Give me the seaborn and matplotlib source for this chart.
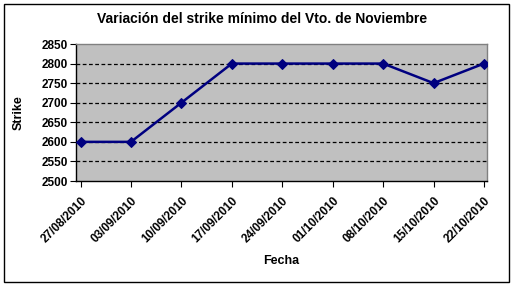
import matplotlib
matplotlib.use("Agg")
import matplotlib.pyplot as plt
from matplotlib.patches import Rectangle
import seaborn as sns
import numpy as np
import pandas as pd

fechas = ["27/08/2010", "03/09/2010", "10/09/2010", "17/09/2010", "24/09/2010",
          "01/10/2010", "08/10/2010", "15/10/2010", "22/10/2010"]
strike = [2600, 2600, 2700, 2800, 2800, 2800, 2800, 2750, 2800]
yticks = [2500, 2550, 2600, 2650, 2700, 2750, 2800, 2850]

sns.set_style("white")
plt.rcParams['font.family'] = ['Liberation Sans', 'DejaVu Sans']
plt.rcParams['text.color'] = 'black'
plt.rcParams['axes.labelcolor'] = 'black'
plt.rcParams['xtick.color'] = 'black'
plt.rcParams['ytick.color'] = 'black'

df = pd.DataFrame({"pos": np.arange(len(fechas)), "Fecha": fechas, "Strike": strike})

fig = plt.figure(figsize=(5.13, 2.88), dpi=100)
fig.patch.set_facecolor("white")
ax = fig.add_axes([76/513, 1-181/288, (487-76)/513, (181-44)/288])
ax.set_facecolor("#C0C0C0")

for y in yticks[1:-1]:
    ax.axhline(y, color="black", lw=0.9, ls=(0, (3, 2)), zorder=1)

sns.lineplot(data=df, x="pos", y="Strike", ax=ax, color="#000080", lw=1.8,
             marker="D", markersize=5.5, markeredgecolor="#000080", zorder=3)

ax.set_ylim(2500, 2850)
ax.set_xlim(-0.09, 8.06)
ax.set_yticks(yticks)
ax.set_yticklabels([str(v) for v in yticks], fontsize=8.5, fontweight="bold")
ax.set_xticks(df["pos"])
ax.set_xticklabels(fechas, rotation=45, ha="right", rotation_mode="anchor",
                   fontsize=8.5, fontweight="bold")
ax.tick_params(axis="y", direction="out", length=4, width=0.8, color="black", pad=2,
               left=True)
ax.tick_params(axis="x", direction="out", length=4, width=0.8, color="black", pad=6,
               bottom=True)

for s in ["left", "bottom"]:
    ax.spines[s].set_color("black")
    ax.spines[s].set_linewidth(1.0)
for s in ["top", "right"]:
    ax.spines[s].set_color("#808080")
    ax.spines[s].set_linewidth(1.0)

ax.set_xlabel("Fecha", fontsize=9, fontweight="bold", labelpad=7)
ax.set_ylabel("Strike", fontsize=9, fontweight="bold", labelpad=12)

fig.text(262/513, 1-19/288, "Variación del strike mínimo del Vto. de Noviembre",
         ha="center", va="center", fontsize=10, fontweight="bold")

fig.patches.append(Rectangle((4/513, 6/288), (509-4)/513, (284-6)/288,
                             transform=fig.transFigure, fill=False,
                             edgecolor="black", lw=1.0))

fig.savefig("out.png", dpi=100)
